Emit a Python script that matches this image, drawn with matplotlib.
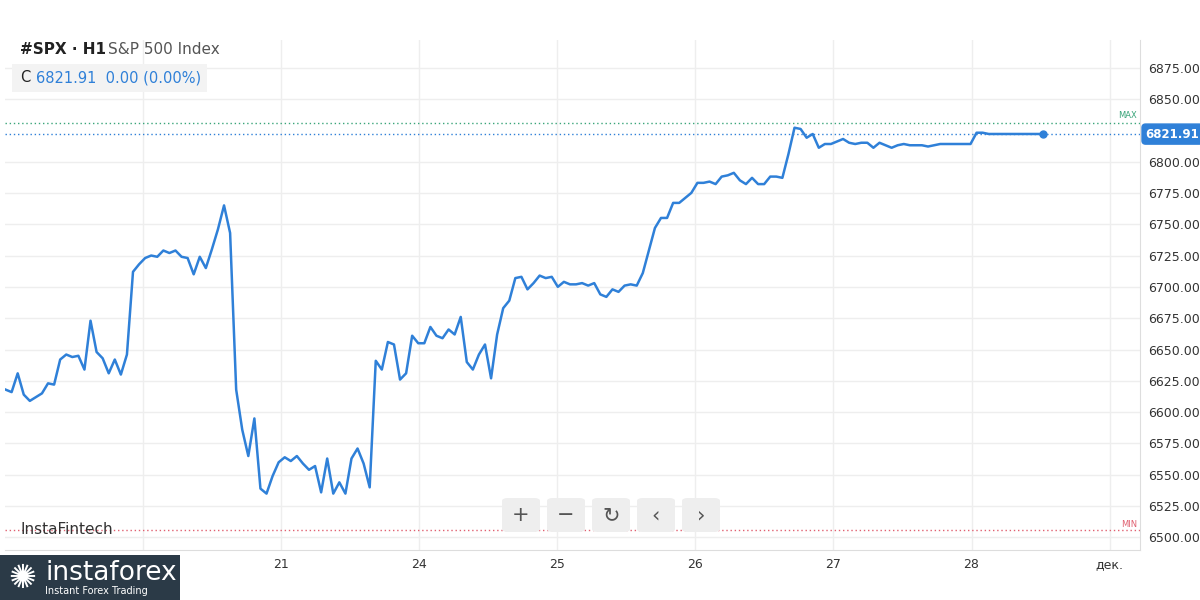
import matplotlib
matplotlib.use("Agg")
import matplotlib.pyplot as plt
import numpy as np
from matplotlib.patches import FancyBboxPatch, Rectangle

plt.rcParams['font.family'] = ['DejaVu Sans']

day_labels = ['20', '21', '24', '25', '26', '27', '28', 'дек.']
y_ticks = [6500, 6525, 6550, 6575, 6600, 6625, 6650, 6675, 6700, 6725, 6750, 6775, 6800, 6850, 6875]
prices = [6618, 6616, 6631, 6614, 6609, 6612, 6615, 6623, 6622, 6642, 6646, 6644, 6645, 6634, 6673,
          6648, 6643, 6631, 6642, 6630, 6646, 6712, 6718, 6723, 6725, 6724, 6729, 6727, 6729, 6724,
          6723, 6710, 6724, 6715, 6730, 6746, 6765, 6743, 6618, 6586, 6565, 6595, 6539, 6535, 6549,
          6560, 6564, 6561, 6565, 6559, 6554, 6557, 6536, 6563, 6535, 6544, 6535, 6563, 6571, 6559,
          6540, 6641, 6634, 6656, 6654, 6626, 6631, 6661, 6655, 6655, 6668, 6661, 6659, 6666, 6662,
          6676, 6640, 6634, 6646, 6654, 6627, 6662, 6683, 6689, 6707, 6708, 6698, 6703, 6709, 6707,
          6708, 6700, 6704, 6702, 6702, 6703, 6701, 6703, 6694, 6692, 6698, 6696, 6701, 6702, 6701,
          6711, 6729, 6747, 6755, 6755, 6767, 6767, 6771, 6775, 6783, 6783, 6784, 6782, 6788, 6789,
          6791, 6785, 6782, 6787, 6782, 6782, 6788, 6788, 6787, 6806, 6827, 6826, 6819, 6822, 6811,
          6814, 6814, 6816, 6818, 6815, 6814, 6815, 6815, 6811, 6815, 6813, 6811, 6813, 6814, 6813,
          6813, 6813, 6812, 6813, 6814, 6814, 6814, 6814, 6814, 6814, 6823, 6823, 6822, 6822, 6822,
          6822, 6822, 6822, 6822, 6822, 6822, 6822]
last_price = 6821.91
max_level = 6831
min_level = 6506
t_start, t_end = -0.996, 6.52

blue = '#2f80d8'
fig = plt.figure(figsize=(12, 6), dpi=100)
ax = fig.add_axes([5/1200, 50/600, 1135/1200, 510/600])
t = np.linspace(t_start, t_end, len(prices))
ax.plot(t, prices, color=blue, lw=1.8, zorder=3)
ax.plot(t[-1], prices[-1], 'o', color=blue, ms=5, zorder=4)
ax.axhline(last_price, color=blue, ls=(0, (1, 2)), lw=1)
ax.axhline(max_level, color='#3aa57a', ls=(0, (1, 2)), lw=1)
ax.axhline(min_level, color='#e06070', ls=(0, (1, 2)), lw=1)
ax.set_xlim(-1.0, 7.22)
ax.set_ylim(6490, 6897)
ax.set_xticks(range(len(day_labels)))
ax.set_xticklabels(day_labels, fontsize=9, color='#333333')
ax.set_yticks(y_ticks)
ax.set_yticklabels([f'{v:.2f}' for v in y_ticks], fontsize=9, color='#333333')
ax.yaxis.tick_right()
ax.tick_params(length=0, pad=6)
ax.grid(True, color='#eeeeee', lw=1)
for s in ax.spines.values():
    s.set_visible(False)
ax.spines['right'].set_visible(True); ax.spines['right'].set_color('#dddddd')
ax.spines['bottom'].set_visible(True); ax.spines['bottom'].set_color('#dddddd')

ax.text(7.2, max_level + 2, 'MAX', color='#3aa57a', fontsize=6, ha='right', va='bottom')
ax.text(7.2, min_level + 1, 'MIN', color='#e06070', fontsize=6, ha='right', va='bottom')
ax.annotate(f'{last_price:.2f}', xy=(1.0, last_price), xycoords=('axes fraction', 'data'),
            xytext=(4, 0), textcoords='offset points', va='center', ha='left', fontsize=8.5,
            color='white', fontweight='bold',
            bbox=dict(boxstyle='round,pad=0.3', fc=blue, ec=blue))

fig.text(20/1200, 1 - 50/600, '#SPX · H1', fontsize=11, fontweight='bold', color='#222222', va='center')
fig.text(108/1200, 1 - 50/600, 'S&P 500 Index', fontsize=11, color='#555555', va='center')
fig.patches.append(FancyBboxPatch((12/1200, 1 - 92/600), 195/1200, 28/600, boxstyle='round,pad=0',
                                  transform=fig.transFigure, fc='#f3f3f3', ec='none', zorder=0))
fig.text(20/1200, 1 - 78/600, 'C', fontsize=10.5, color='#222222', va='center')
fig.text(36/1200, 1 - 78/600, '6821.91  0.00 (0.00%)', fontsize=10.5, color=blue, va='center')
fig.text(20/1200, 1 - 529/600, 'InstaFintech', fontsize=11, color='#333333', va='center')

# zoom buttons
for i, sym in enumerate(['+', '−', '↻', '‹', '›']):
    x0 = 502 + i * 45
    fig.patches.append(FancyBboxPatch((x0/1200, 1 - 532/600), 38/1200, 34/600,
                                      boxstyle='round,pad=0,rounding_size=0.005',
                                      transform=fig.transFigure, fc='#eeeeee', ec='none', zorder=5))
    fig.text((x0 + 19)/1200, 1 - 515/600, sym, fontsize=15, color='#555555', ha='center', va='center', zorder=6)

# logo
fig.patches.append(Rectangle((0, 0), 180/1200, 45/600, transform=fig.transFigure, fc='#2b3a47', ec='none', zorder=5))
fig.text(45/1200, 1 - 573/600, 'instaforex', fontsize=19, color='white', va='center', zorder=6)
fig.text(45/1200, 1 - 591/600, 'Instant Forex Trading', fontsize=7, color='white', va='center', zorder=6)
fig.text(22/1200, 1 - 578/600, '✺', fontsize=24, color='white', ha='center', va='center', zorder=6)

fig.savefig('out.png', dpi=100)
